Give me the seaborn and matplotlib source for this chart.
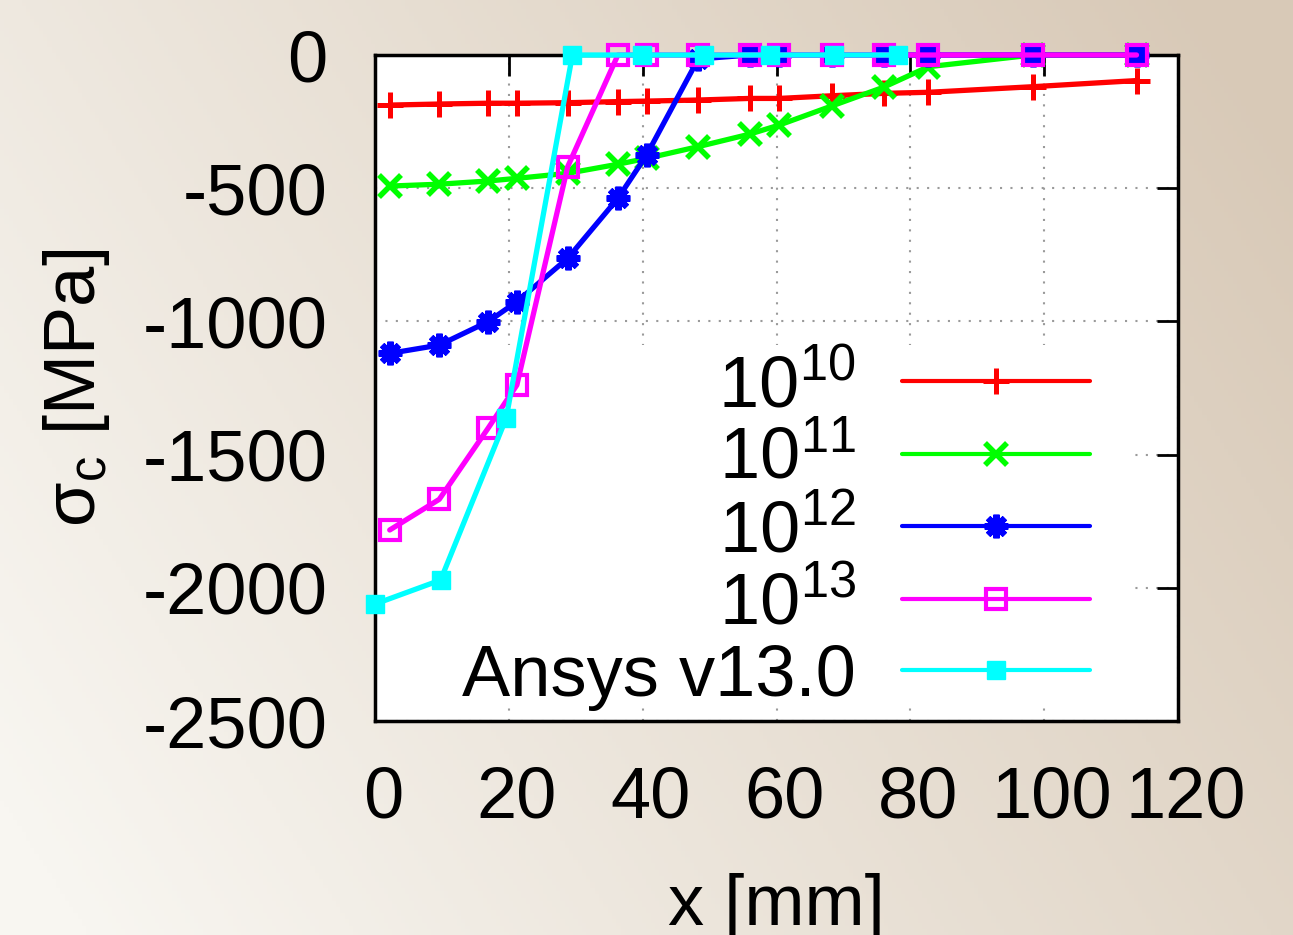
import numpy as np
import pandas as pd
import matplotlib
matplotlib.use("Agg")
import matplotlib.pyplot as plt
import matplotlib.transforms as mtransforms
from matplotlib.patches import Rectangle
import seaborn as sns

# data: x [mm], sigma_c [MPa]
x_mesh = [2.2, 9.6, 16.9, 21.2, 28.8, 36.3, 40.6, 48.3, 56.0, 60.4, 68.3, 76.0, 82.7, 98.3, 113.8]
s_1e10 = [-188, -184, -181, -181, -179, -175, -173, -169, -163, -163, -153, -144, -140, -119, -96]
s_1e11 = [-492, -485, -473, -463, -444, -410, -388, -344, -297, -263, -191, -121, -44, 0, 0]
s_1e12 = [-1120, -1089, -1001, -926, -763, -538, -375, -15, 0, 0, 0, 0, 0, 0, 0]
s_1e13 = [-1783, -1668, -1401, -1239, -419, 0, 0, 0, 0, 0, 0, 0, 0, 0, 0]
x_ansys = [0.0, 9.8, 19.6, 29.5, 39.9, 49.1, 59.0, 68.6, 78.2]
s_ansys = [-2061, -1971, -1364, 0, 0, 0, 0, 0, 0]

labels = [r"$\mathregular{10^{10}}$", r"$\mathregular{10^{11}}$", r"$\mathregular{10^{12}}$",
          r"$\mathregular{10^{13}}$", "Ansys v13.0"]
x_ticks = [0, 20, 40, 60, 80, 100, 120]
y_ticks = [0, -500, -1000, -1500, -2000, -2500]

sns.set_style("white")
plt.rcParams['font.family'] = ['Liberation Sans', 'DejaVu Sans']
plt.rcParams['mathtext.fontset'] = 'custom'
plt.rcParams['mathtext.rm'] = 'Liberation Sans'
plt.rcParams['mathtext.it'] = 'Liberation Sans:italic'
plt.rcParams['mathtext.bf'] = 'Liberation Sans:bold'
plt.rcParams['axes.unicode_minus'] = False
for k in ['text.color', 'axes.labelcolor', 'xtick.color', 'ytick.color']:
    plt.rcParams[k] = 'black'

fig = plt.figure(figsize=(12.93, 9.35), dpi=100)

# beige gradient background
bg = fig.add_axes([0, 0, 1, 1], zorder=-10)
gx, gy = np.meshgrid(np.linspace(0, 1, 300), np.linspace(0, 1, 300))
t = np.clip(0.75 * gx + 0.35 * (1 - gy) - 0.05, 0, 1)
c0 = np.array([248, 246, 241]) / 255
c1 = np.array([216, 201, 183]) / 255
img = c0[None, None, :] * (1 - t[..., None]) + c1[None, None, :] * t[..., None]
bg.imshow(img, aspect='auto', extent=[0, 1, 0, 1])
bg.axis('off')

ax = fig.add_axes([375 / 1293, 1 - 721 / 935, 803 / 1293, 666 / 935])
ax.set_facecolor('white')

series = [
    (x_mesh, s_1e10, '#ff0000', dict(marker='+', markersize=19, markeredgewidth=3.6)),
    (x_mesh, s_1e11, '#00ff00', dict(marker='x', markersize=16, markeredgewidth=4)),
    (x_mesh, s_1e12, '#0000ff', dict(marker=(8, 2, 0), markersize=17, markeredgewidth=4.5)),
    (x_mesh, s_1e13, '#ff00ff', dict(marker='s', markersize=15, markeredgewidth=3, markerfacecolor='none')),
    (x_ansys, s_ansys, '#00ffff', dict(marker='s', markersize=13, markeredgewidth=1)),
]
for (xs, ys, col, mk), lab in zip(series, labels):
    df = pd.DataFrame({'x': xs, 'y': ys})
    sns.lineplot(data=df, x='x', y='y', ax=ax, color=col, linewidth=3.8, label=lab,
                 markeredgecolor=col, clip_on=False, zorder=3, legend=False, **mk)

ax.set_xlim(0, 120)
ax.set_ylim(-2500, 0)
ax.set_xticks(x_ticks)
ax.set_yticks(y_ticks)
ax.set_axisbelow(True)
ax.grid(True, linestyle=(0, (1, 4)), color='#9a9a9a', linewidth=1.5)

# opaque key area (covers grid, under curves)
ax.add_patch(Rectangle((0, 0.021), 0.943, 0.544, transform=ax.transAxes,
                       facecolor='white', edgecolor='none', zorder=1))

for sp in ax.spines.values():
    sp.set_linewidth(2.5)
    sp.set_color('black')
    sp.set_zorder(2.5)

ax.tick_params(direction='in', length=15, width=2, top=True, right=True,
               labelsize=52, colors='black')
ax.tick_params(axis='y', pad=34)
ax.tick_params(axis='x', pad=32)
shift = mtransforms.ScaledTranslation(0.08, 0, fig.dpi_scale_trans)
for lbl in ax.get_xticklabels():
    lbl.set_transform(lbl.get_transform() + shift)

ax.set_xlabel('x [mm]', fontsize=52)
ax.set_ylabel(r'σ$_\mathregular{c}$ [MPa]', fontsize=52)
ax.xaxis.set_label_coords(0.5, -0.228)
ax.yaxis.set_label_coords(-0.3275, 0.5)

handles, labs = ax.get_legend_handles_labels()
leg = ax.legend(handles, labs, loc='center right', bbox_to_anchor=(0.890, 0.2835),
                frameon=False, fontsize=52, markerfirst=False, handlelength=2.6,
                handletextpad=0.64, labelspacing=0.065, borderaxespad=0, borderpad=0)
for h in leg.legend_handles:
    h.set_linewidth(3)

fig.savefig('out.png', dpi=100)
